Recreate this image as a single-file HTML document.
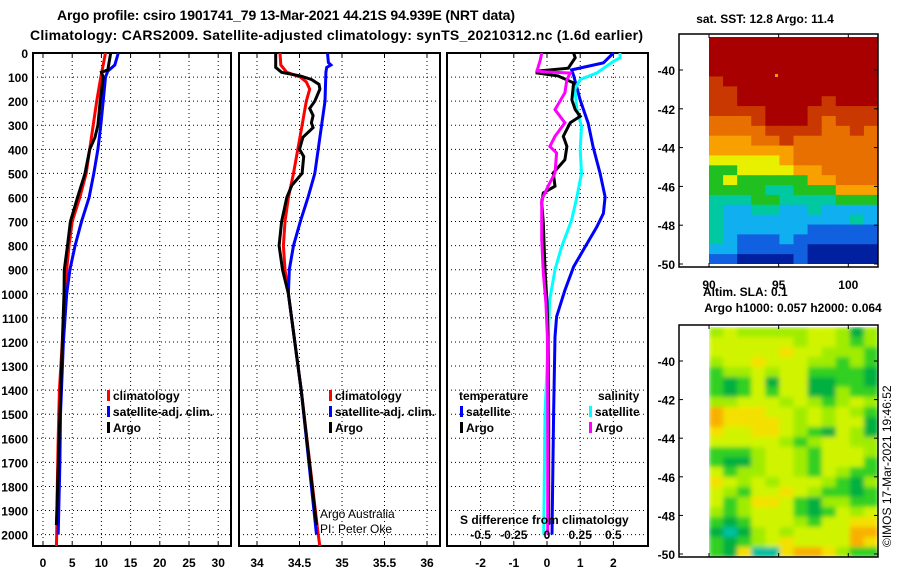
<!DOCTYPE html>
<html><head><meta charset="utf-8"><style>
html,body{margin:0;padding:0;background:#fff;}
svg{display:block;font-family:"Liberation Sans",Arial,sans-serif;}
.b{font-weight:bold;font-size:12px;}
</style></head><body>
<svg id="c" width="900" height="580" viewBox="0 0 900 580" xmlns="http://www.w3.org/2000/svg">
<defs>
<clipPath id="cp1"><rect x="33" y="38" width="198" height="508"/></clipPath>
<clipPath id="cp2"><rect x="239" y="38" width="201" height="508"/></clipPath>
<clipPath id="cp3"><rect x="447" y="38" width="201" height="508"/></clipPath>
<clipPath id="cpm1"><rect x="709" y="37" width="169" height="227"/></clipPath>
<clipPath id="cpm2"><rect x="709" y="327" width="169" height="230"/></clipPath>
<filter id="blurSla" x="-10%" y="-10%" width="120%" height="120%"><feGaussianBlur stdDeviation="2.5" edgeMode="duplicate"/></filter>
<filter id="blurSst" x="-10%" y="-10%" width="120%" height="120%"><feGaussianBlur stdDeviation="0.01" edgeMode="duplicate"/></filter>
</defs>
<text x="57" y="20" class="b" style="font-size:14px" textLength="458">Argo profile: csiro 1901741_79 13-Mar-2021 44.21S 94.939E (NRT data)</text>
<text x="30" y="40" class="b" style="font-size:14px" textLength="613">Climatology: CARS2009. Satellite-adjusted climatology: synTS_20210312.nc (1.6d earlier)</text>
<g id="g"></g>
</svg>
<script>
// ---- data (depth in m) ----
const tempClimDepth=[0,100,200,300,400,500,600,700,800,900,1000,1200,1400,1600,1800,2000,2050];
const tempClim=[10.7,9.9,9.2,8.6,8.0,7.4,6.3,5.0,4.45,4.05,3.9,3.3,2.8,2.6,2.45,2.35,2.3];
const tempSatDepth=[0,50,75,100,200,300,400,500,600,700,800,900,1000,1200,1500,1700,2000];
const tempSat=[12.9,12.3,11.1,10.7,10.3,9.9,9.4,8.7,7.9,6.6,5.5,4.6,4.05,3.5,3.0,2.9,2.6];
const tempArgoDepth=[0,70,80,100,200,300,350,400,500,600,700,800,900,1000,1500,1960];
const tempArgo=[11.6,11.1,10.0,10.3,9.8,9.4,8.9,8.0,7.2,5.9,4.7,4.2,3.65,3.6,2.9,2.3];
const salClimDepth=[0,50,80,100,120,150,200,300,400,500,600,700,800,900,1000,1400,2000,2050];
const salClim=[34.27,34.28,34.35,34.51,34.58,34.62,34.58,34.53,34.48,34.43,34.37,34.33,34.31,34.33,34.37,34.52,34.72,34.74];
const salSatDepth=[0,40,50,60,80,200,300,400,500,600,700,800,900,1000,1400,2000];
const salSat=[34.83,34.84,34.87,34.82,34.81,34.80,34.76,34.72,34.68,34.60,34.51,34.43,34.38,34.37,34.52,34.70];
const salArgoDepth=[0,60,80,95,110,130,150,200,230,260,290,310,350,400,430,500,550,600,700,800,900,1000,1400,1960];
const salArgo=[34.22,34.22,34.29,34.51,34.64,34.73,34.74,34.68,34.62,34.66,34.64,34.66,34.54,34.50,34.55,34.53,34.41,34.35,34.29,34.26,34.30,34.37,34.52,34.70];
const dTSatDepth=[0,41,70,93,195,292,390,500,597,666,722,805,888,985,1095,1178,1500,2000];
const dTSat=[2.0,1.7,0.74,0.8,1.0,1.24,1.39,1.6,1.75,1.7,1.5,1.15,0.8,0.54,0.29,0.24,0.2,0.15];
const dSSatDepth=[0,20,35,83,110,150,235,305,400,500,597,694,805,900,1025,1178,1500,2000];
const dSSat=[0.55,0.55,0.5,0.375,0.25,0.21,0.225,0.26,0.25,0.26,0.225,0.185,0.11,0.06,0.02,0.01,-0.015,-0.025];
const dTArgoDepth=[0,20,63,75,83,95,124,195,235,263,290,346,388,443,498,553,581,622,705,899,1037,1178,1500,1960];
const dTArgo=[0.8,0.85,0.64,-0.3,-0.3,0.33,0.8,0.75,0.85,1.0,0.7,0.49,0.6,0.54,0.19,0.24,-0.11,-0.16,-0.11,-0.06,0.0,0.03,0.05,0.05];
const dSArgoDepth=[0,27,75,79,83,111,165,235,290,346,388,415,498,553,581,609,774,913,1037,1178,1500,2000];
const dSArgo=[-0.04,-0.05,-0.075,0.0,0.175,0.15,0.135,0.06,0.135,0.06,0.022,0.072,0.06,0.008,-0.015,-0.04,-0.04,-0.028,-0.008,0.003,0.005,0.005];
const depthTicks=[0,100,200,300,400,500,600,700,800,900,1000,1100,1200,1300,1400,1500,1600,1700,1800,1900,2000];
const tTicks=[0,5,10,15,20,25,30];
const sTicks=[34,34.5,35,35.5,36];
const dTicks=[-2,-1,0,1,2];
const dSTickValues=[-0.5,-0.25,0,0.25,0.5];
const dSTickLabels=["-0.5","-0.25","0","0.25","0.5"];
const latTicks=[-40,-42,-44,-46,-48,-50];
const lonTicks=[90,95,100];
// SST map levels (0..9), rows top(-38.3) to bottom(-50), cols 90..102
const sstRows=["999999999999","999999999999","999999999999","999999999999","899999999999","889999999999","889999998999","888899988888","777899987888","777788887787","666778777777","666666777777","555556777777","445555667777","454444466777","444433444666","333443333444","322332232222","322222222232","322222211111","321112111111","221111100000","110000100000"];
const slaRows=["343333344313","444444344323","444445443332","344544433232","233434422221","212414411221","212424411322","334443432343","655544343432","655554343441","544554321431","444443234433","222344324443","211344324442","423344324322","543434443213","432445432212","423554213322","323444212434","212444324455","101343444466","212345444465","215005665322"];
const sstColors=["#0020a0","#1060e0","#10b0f0","#00c8a0","#20c020","#e8f000","#f8a000","#e87000","#c83800","#a80000"];
const slaColors=["#00c0a0","#00b040","#30d020","#a0ec00","#d0f400","#f4e000","#f8b000"];

// ---- scales ----
const yD=d=>53+d*0.2408;
const xT=v=>43+v*5.84;
const xS=v=>257+(v-34)*85;
const xDT=v=>547+v*33.2;
const xDS=v=>547+v*132.8;
const NS="http://www.w3.org/2000/svg";
const G=document.getElementById('g');
function el(tag,attrs,parent){const e=document.createElementNS(NS,tag);for(const k in attrs)e.setAttribute(k,attrs[k]);(parent||G).appendChild(e);return e;}
function txt(x,y,s,anchor,cls){const t=el('text',{x:x,y:y,'text-anchor':anchor||'start','class':cls||'b'});t.textContent=s;return t;}

const panels=[{x0:33,x1:231,cp:'cp1',ticks:tTicks,xf:xT,lab:tTicks.map(String)},
 {x0:239,x1:440,cp:'cp2',ticks:sTicks,xf:xS,lab:sTicks.map(String)},
 {x0:447,x1:648,cp:'cp3',ticks:dTicks,xf:xDT,lab:dTicks.map(String)}];
const pBot=546;
panels.forEach((p,i)=>{
  const g=el('g',{});
  
  
  depthTicks.forEach(d=>{const y=yD(d);const l=el('line',{x1:p.x0,x2:p.x1,y1:y,y2:y,stroke:'#000','stroke-width':1,'stroke-dasharray':'1 3'},g);
    
    });
  p.ticks.forEach(tk=>{const x=p.xf(tk);const l=el('line',{x1:x,x2:x,y1:yD(0),y2:pBot,stroke:'#000','stroke-width':1,'stroke-dasharray':'1 3'},g);
    
    
    el('line',{x1:x,x2:x,y1:yD(0),y2:yD(0)+4,stroke:'#000'},g);el('line',{x1:x,x2:x,y1:pBot,y2:pBot-4,stroke:'#000'},g);});
  const r=el('rect',{x:p.x0,y:yD(0),width:p.x1-p.x0,height:pBot-yD(0),fill:'none',stroke:'#000','stroke-width':2},g);
  
  
  p.lab.forEach((s,k)=>{const tt=txt(p.xf(p.ticks[k]),567,s,'middle');
    
    });
});
depthTicks.forEach(d=>{const tt=txt(28,yD(d)+5,String(d),'end');
  
  });

function series(depths,vals,xf,color,cp,name){
  const pts=depths.map((d,i)=>xf(vals[i]).toFixed(1)+','+yD(d).toFixed(1)).join(' ');
  const l=el('polyline',{points:pts,fill:'none',stroke:color,'stroke-width':3,'stroke-linejoin':'miter','clip-path':'url(#'+cp+')'});
  
  
}
series(tempClimDepth,tempClim,xT,'#ff0000','cp1','temp-climatology-line');
series(tempSatDepth,tempSat,xT,'#0000ff','cp1','temp-satellite-line');
series(tempArgoDepth,tempArgo,xT,'#000000','cp1','temp-argo-line');
series(salClimDepth,salClim,xS,'#ff0000','cp2','sal-climatology-line');
series(salSatDepth,salSat,xS,'#0000ff','cp2','sal-satellite-line');
series(salArgoDepth,salArgo,xS,'#000000','cp2','sal-argo-line');
series(dTSatDepth,dTSat,xDT,'#0000ff','cp3','dtemp-satellite-line');
series(dSSatDepth,dSSat,xDS,'#00ffff','cp3','dsal-satellite-line');
series(dTArgoDepth,dTArgo,xDT,'#000000','cp3','dtemp-argo-line');
series(dSArgoDepth,dSArgo,xDS,'#ff00ff','cp3','dsal-argo-line');

function leg(x,y,color,label){
  const g=el('g',{});
  
  
  el('rect',{x:x,y:y-10,width:3,height:11,fill:color},g);
  const tt=el('text',{x:x+6,y:y,'class':'b'},g);tt.textContent=label;
}
leg(107,400,'#ff0000','climatology');leg(107,416,'#0000ff','satellite-adj. clim.');leg(107,432,'#000000','Argo');
leg(329,400,'#ff0000','climatology');leg(329,416,'#0000ff','satellite-adj. clim.');leg(329,432,'#000000','Argo');
let t=txt(459,400,'temperature');


t=txt(598,400,'salinity');


leg(460,416,'#0000ff','satellite');leg(460,432,'#000000','Argo');
leg(589,416,'#00ffff','satellite');leg(589,432,'#ff00ff','Argo');
t=txt(460,524,'S difference from climatology');


dSTickLabels.forEach((s,k)=>{const tt=txt(xDS(dSTickValues[k]),539,s,'middle');
  
  });
t=el('text',{x:320,y:518,'font-size':12});t.textContent='Argo Australia';


t=el('text',{x:320,y:533,'font-size':12});t.textContent='PI: Peter Oke';



// ---- maps ----
function drawMap(rows,colors,bx0,by0,by1,mTop,mBot,lat40,lat50,name,showLon,clipId,filterId){
  const g=el('g',{});
  
  
  const mx0=709,mx1=878;
  const clipG=el('g',{'clip-path':'url(#'+clipId+')'},g);
  const cells=el('g',{filter:'url(#'+filterId+')'},clipG);
  const nr=rows.length,nc=rows[0].length,cw=(mx1-mx0)/nc,rh=(mBot-mTop)/nr;
  rows.forEach((row,r)=>{for(let c=0;c<nc;c++){
    const cell=el('rect',{x:(mx0+c*cw).toFixed(2),y:(mTop+r*rh).toFixed(2),width:(cw+0.6).toFixed(2),height:(rh+0.6).toFixed(2),fill:colors[+row[c]]},cells);
    
    }});
  el('rect',{x:bx0,y:by0,width:878-bx0,height:by1-by0,fill:'none',stroke:'#000','stroke-width':1.5},g);
  const yl=v=>lat40+(v+40)/(-10)*(lat50-lat40);
  latTicks.forEach(v=>{const y=yl(v);el('line',{x1:bx0,x2:bx0+4,y1:y,y2:y,stroke:'#000'},g);el('line',{x1:878,x2:874,y1:y,y2:y,stroke:'#000'},g);
    const tt=txt(675,y+5,String(v),'end');
    
    });
  lonTicks.forEach(v=>{const x=709+(v-90)*13.93;el('line',{x1:x,x2:x,y1:by0,y2:by0+4,stroke:'#000'},g);el('line',{x1:x,x2:x,y1:by1,y2:by1-4,stroke:'#000'},g);
    if(showLon){const tt=txt(x,289,String(v),'middle');
      
      }});
  return g;
}
drawMap(sstRows,sstColors,679,34,267,37,264,70,264,'sst-map',true,'cpm1','blurSst');
el('rect',{x:775,y:74,width:3,height:3,fill:'#f8a000'});
drawMap(slaRows,slaColors,679,325,557,327,557,361,554,'sla-map',false,'cpm2','blurSla');
t=txt(765,23,'sat. SST: 12.8 Argo: 11.4','middle');


t=txt(703,296,'Altim. SLA: 0.1');


t=txt(793,312,'Argo h1000: 0.057 h2000: 0.064','middle');


t=el('text',{x:0,y:0,'font-size':12,transform:'translate(891,547) rotate(-90)'});t.textContent='©IMOS 17-Mar-2021 19:46:52';


</script>
</body></html>
